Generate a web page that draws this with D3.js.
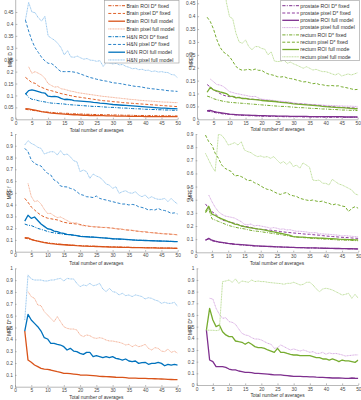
<!DOCTYPE html>
<html><head><meta charset="utf-8">
<script src="https://cdn.jsdelivr.net/npm/d3@7"></script>
<style>body{margin:0;background:#fff}svg{display:block}text{font-family:"Liberation Sans",Arial,sans-serif}</style>
</head><body><svg id="c" width="361" height="400"></svg>
<script>
// ---------- data ----------
const averages = [3,4,5,6,7,8,9,10,11,12,13,14,15,16,17,18,19,20,21,22,23,24,25,26,27,28,29,30,31,32,33,34,35,36,37,38,39,40,41,42,43,44,45,46,47,48,49,50];
const xTicks = [0,5,10,15,20,25,30,35,40,45,50];
const yTicksD = [0,0.05,0.1,0.15,0.2,0.25,0.3,0.35,0.4,0.45];
const yTicksF1 = [0,0.1,0.2,0.3,0.4,0.5,0.6,0.7,0.8,0.9,1];
const yTicksF2 = [0,0.1,0.2,0.3,0.4,0.5,0.6,0.7,0.8,0.9];
const yTicksDs = [0,0.1,0.2,0.3,0.4,0.5,0.6,0.7,0.8,0.9,1];

const brainLabels = ["Brain ROI D* fixed","Brain pixel D* fixed","Brain ROI full model","Brain pixel full model"];
const hnLabels = ["H&N ROI D* fixed","H&N pixel D* fixed","H&N ROI full model","H&N pixel full model"];
const prostateLabels = ["prostate ROI D* fixed","prostate pixel D* fixed","prostate ROI full model","prostate pixel full model"];
const rectumLabels = ["rectum ROI D* fixed","rectum pixel D* fixed","rectum ROI full mode","rectum pixel full mode"];

// MRE D, brain
const brainRoiDfixD = [0.042,0.040,0.038,0.036,0.034,0.032,0.031,0.030, 0.029,0.028,0.027,0.026,0.025,0.025,0.024,0.023,0.023,0.022, 0.022,0.021,0.021,0.020,0.020,0.020,0.019,0.019,0.019,0.018, 0.018,0.018,0.017,0.017,0.017,0.017,0.016,0.016,0.016,0.016, 0.016,0.015,0.015,0.015,0.015,0.015,0.015,0.014,0.014,0.014];
const brainPixDfixD = [0.176,0.165,0.154,0.151,0.140,0.134,0.128,0.123, 0.120,0.116,0.112,0.108,0.105,0.102,0.099,0.096,0.094,0.092, 0.090,0.088,0.086,0.084,0.082,0.080,0.078,0.077,0.076,0.074, 0.073,0.072,0.070,0.069,0.068,0.067,0.066,0.065,0.064,0.063, 0.062,0.061,0.060,0.059,0.058,0.057,0.056,0.055,0.054,0.053];
const brainRoiFullD = [0.045,0.044,0.041,0.038,0.035,0.032,0.030,0.028, 0.026,0.025,0.024,0.023,0.022,0.021,0.020,0.019,0.019,0.018, 0.017,0.017,0.016,0.016,0.015,0.015,0.015,0.014,0.014,0.014, 0.013,0.013,0.013,0.013,0.012,0.012,0.012,0.012,0.012,0.011, 0.011,0.011,0.011,0.011,0.011,0.011,0.011,0.011,0.011,0.011];
const brainPixFullD = [null,0.220,0.193,0.200,0.193,0.186,0.172,0.150, 0.142,0.135,0.137,0.128,0.126,0.122,0.118,0.116,0.112,0.110, 0.108,0.106,0.104,0.102,0.100,0.098,0.096,0.095,0.093,0.092, 0.090,0.089,0.087,0.086,0.084,0.083,0.082,0.080,0.079,0.078, 0.077,0.076,0.075,0.074,0.073,0.072,0.072,0.071,0.070,0.070];
// MRE D, H&N
const hnRoiDfixD = [0.109,0.092,0.084,0.082,0.078,0.075,0.073,0.070, 0.068,0.067,0.066,0.065,0.064,0.062,0.061,0.060,0.059,0.058, 0.057,0.056,0.055,0.054,0.054,0.053,0.052,0.051,0.050,0.050, 0.049,0.048,0.047,0.047,0.046,0.045,0.044,0.044,0.043,0.042, 0.042,0.041,0.041,0.040,0.040,0.039,0.039,0.038,0.038,0.037];
const hnPixDfixD = [0.416,0.370,0.330,0.300,0.280,0.260,0.245,0.235, 0.234,0.225,0.210,0.200,0.200,0.200,0.200,0.198,0.195,0.190, 0.185,0.180,0.175,0.172,0.168,0.165,0.162,0.160,0.157,0.153, 0.152,0.150,0.148,0.145,0.143,0.140,0.138,0.137,0.135,0.132, 0.130,0.128,0.127,0.125,0.124,0.122,0.120,0.119,0.118,0.117];
const hnRoiFullD = [0.105,0.120,0.123,0.120,0.116,0.112,0.110,0.097, 0.095,0.096,0.094,0.088,0.083,0.084,0.082,0.078,0.077,0.076, 0.075,0.074,0.073,0.071,0.070,0.068,0.067,0.066,0.064,0.062, 0.061,0.060,0.059,0.058,0.057,0.056,0.055,0.054,0.053,0.052, 0.051,0.050,0.049,0.048,0.047,0.047,0.046,0.045,0.045,0.044];
const hnPixFullD = [0.416,0.490,0.450,0.447,0.425,0.412,0.432,0.350, 0.340,0.332,0.318,0.300,0.270,0.288,0.262,0.260,0.265,0.258, 0.252,0.255,0.248,0.247,0.243,0.246,0.222,0.238,0.236,0.232, 0.235,0.228,0.230,0.222,0.218,0.212,0.214,0.208,0.210,0.205, 0.206,0.200,0.203,0.198,0.200,0.197,0.196,0.188,0.186,0.174];
// MRE D, prostate
const proRoiDfixD = [0.032,0.030,0.027,0.025,0.023,0.021,0.020,0.019, 0.018,0.017,0.016,0.015,0.015,0.014,0.014,0.013,0.013,0.012, 0.012,0.012,0.011,0.011,0.011,0.011,0.010,0.010,0.010,0.010, 0.010,0.010,0.009,0.009,0.009,0.009,0.009,0.009,0.009,0.008, 0.008,0.008,0.008,0.008,0.008,0.008,0.008,0.008,0.008,0.008];
const proPixDfixD = [0.135,0.125,0.114,0.108,0.100,0.094,0.090,0.088, 0.088,0.086,0.084,0.082,0.080,0.079,0.078,0.077,0.076,0.075, 0.074,0.072,0.071,0.070,0.068,0.067,0.066,0.065,0.064,0.062, 0.061,0.060,0.059,0.058,0.057,0.056,0.055,0.054,0.053,0.051, 0.050,0.049,0.048,0.047,0.047,0.046,0.045,0.044,0.044,0.043];
const proRoiFullD = [0.034,0.035,0.031,0.028,0.026,0.024,0.022,0.020, 0.019,0.018,0.017,0.017,0.016,0.016,0.015,0.015,0.014,0.014, 0.014,0.013,0.013,0.013,0.012,0.012,0.012,0.012,0.011,0.011, 0.011,0.011,0.011,0.011,0.010,0.010,0.010,0.010,0.010,0.010, 0.010,0.010,0.010,0.010,0.010,0.009,0.009,0.009,0.009,0.009];
const proPixFullD = [null,0.156,0.146,0.135,0.133,0.128,0.118,0.107, 0.104,0.100,0.098,0.095,0.093,0.090,0.088,0.089,0.083,0.078, 0.077,0.076,0.074,0.073,0.071,0.070,0.069,0.068,0.066,0.063, 0.062,0.061,0.060,0.059,0.058,0.057,0.056,0.056,0.055,0.054, 0.054,0.053,0.053,0.052,0.052,0.051,0.051,0.051,0.050,0.050];
// MRE D, rectum
const recRoiDfixD = [0.090,0.086,0.080,0.076,0.073,0.070,0.068,0.066, 0.065,0.064,0.063,0.062,0.061,0.060,0.059,0.058,0.057,0.056, 0.055,0.054,0.053,0.052,0.051,0.050,0.050,0.049,0.048,0.047, 0.046,0.045,0.045,0.044,0.043,0.042,0.042,0.041,0.040,0.040, 0.039,0.038,0.038,0.037,0.036,0.036,0.035,0.035,0.034,0.034];
const recPixDfixD = [0.396,0.379,0.350,0.310,0.280,0.262,0.253,0.243, 0.225,0.205,0.195,0.190,0.192,0.194,0.190,0.195,0.190,0.190, 0.182,0.176,0.173,0.170,0.165,0.164,0.166,0.160,0.158,0.156, 0.152,0.149,0.145,0.146,0.142,0.138,0.140,0.135,0.134,0.131, 0.130,0.131,0.129,0.130,0.126,0.124,0.121,0.118,0.115,0.116];
const recRoiFullD = [0.105,0.124,0.114,0.110,0.106,0.103,0.100,0.090, 0.089,0.083,0.085,0.080,0.081,0.078,0.077,0.076,0.075,0.073, 0.072,0.071,0.070,0.069,0.068,0.066,0.065,0.064,0.062,0.060, 0.059,0.058,0.057,0.056,0.055,0.054,0.053,0.052,0.050,0.049, 0.048,0.047,0.046,0.045,0.045,0.044,0.043,0.042,0.041,0.041];
const recPixFullD = [0.620,0.600,0.600,0.620,0.600,0.580,0.455,0.398, 0.390,0.334,0.300,0.295,0.308,0.282,0.270,0.282,0.282,0.275, 0.272,0.250,0.262,0.226,0.224,0.225,0.230,0.217,0.222,0.215, 0.210,0.204,0.198,0.204,0.198,0.191,0.194,0.189,0.185,0.185, 0.181,0.176,0.172,0.178,0.168,0.172,0.176,0.172,0.176,0.181];

// MRE f, brain
const brainRoiDfixF = [0.115,0.110,0.102,0.096,0.090,0.085,0.080,0.076, 0.072,0.069,0.066,0.063,0.061,0.059,0.057,0.055,0.053,0.052, 0.050,0.049,0.048,0.047,0.046,0.045,0.044,0.043,0.042,0.041, 0.040,0.040,0.039,0.038,0.038,0.037,0.036,0.036,0.035,0.035, 0.034,0.034,0.033,0.033,0.032,0.032,0.031,0.031,0.030,0.030];
const brainPixDfixF = [0.453,0.420,0.380,0.355,0.330,0.310,0.295,0.285, 0.280,0.275,0.270,0.260,0.250,0.245,0.240,0.238,0.235,0.232, 0.225,0.218,0.215,0.212,0.210,0.208,0.206,0.205,0.203,0.200, 0.196,0.192,0.190,0.186,0.183,0.180,0.176,0.173,0.170,0.168, 0.165,0.162,0.160,0.157,0.155,0.152,0.150,0.148,0.146,0.144];
const brainRoiFullF = [0.120,0.118,0.105,0.097,0.090,0.084,0.078,0.073, 0.069,0.066,0.063,0.061,0.059,0.057,0.055,0.053,0.051,0.050, 0.048,0.047,0.046,0.045,0.044,0.043,0.042,0.041,0.040,0.039, 0.039,0.038,0.037,0.037,0.036,0.035,0.035,0.034,0.034,0.033, 0.033,0.032,0.032,0.031,0.031,0.030,0.030,0.030,0.029,0.029];
const brainPixFullF = [null,0.580,0.470,0.425,0.433,0.405,0.360,0.325, 0.325,0.305,0.290,0.295,0.280,0.265,0.250,0.245,0.245,0.225, 0.220,0.222,0.215,0.214,0.212,0.208,0.206,0.207,0.203,0.198, 0.195,0.197,0.190,0.185,0.184,0.183,0.178,0.174,0.170,0.172, 0.163,0.162,0.158,0.155,0.152,0.152,0.153,0.148,0.147,0.142];
// MRE f, H&N
const hnRoiDfixF = [0.235,0.225,0.222,0.210,0.198,0.190,0.182,0.172, 0.165,0.160,0.156,0.152,0.148,0.145,0.142,0.140,0.136,0.132, 0.130,0.128,0.126,0.124,0.122,0.120,0.118,0.116,0.113,0.110, 0.108,0.106,0.105,0.103,0.102,0.100,0.099,0.098,0.097,0.096, 0.095,0.094,0.093,0.092,0.091,0.090,0.089,0.088,0.087,0.086];
const hnPixDfixF = [0.878,0.850,0.779,0.750,0.737,0.728,0.694,0.666, 0.652,0.609,0.595,0.558,0.552,0.550,0.538,0.530,0.510,0.487, 0.480,0.467,0.465,0.460,0.473,0.453,0.445,0.439,0.432,0.425, 0.418,0.411,0.405,0.405,0.397,0.402,0.397,0.382,0.376,0.368, 0.354,0.358,0.354,0.368,0.354,0.350,0.340,0.326,0.330,0.320];
const hnRoiFullF = [0.260,0.310,0.283,0.295,0.265,0.235,0.215,0.195, 0.190,0.175,0.170,0.160,0.155,0.148,0.145,0.140,0.137,0.130, 0.128,0.127,0.125,0.124,0.122,0.120,0.118,0.116,0.113,0.110, 0.109,0.108,0.106,0.104,0.102,0.100,0.099,0.097,0.096,0.095, 0.094,0.093,0.092,0.091,0.090,0.089,0.088,0.087,0.086,0.085];
const hnPixFullF = [0.907,0.943,0.920,0.907,0.887,0.878,0.830,0.841, 0.850,0.848,0.822,0.858,0.822,0.830,0.807,0.773,0.765,0.680, 0.694,0.680,0.623,0.660,0.643,0.632,0.609,0.575,0.566,0.538, 0.552,0.496,0.510,0.518,0.501,0.496,0.510,0.482,0.467,0.482, 0.453,0.467,0.453,0.445,0.445,0.453,0.425,0.453,0.425,0.405];
// MRE f, prostate
const proRoiDfixF = [0.094,0.100,0.088,0.082,0.077,0.073,0.070,0.066, 0.063,0.060,0.058,0.056,0.054,0.052,0.050,0.049,0.047,0.046, 0.045,0.044,0.043,0.042,0.041,0.040,0.039,0.038,0.038,0.037, 0.036,0.035,0.035,0.034,0.033,0.033,0.032,0.032,0.031,0.031, 0.030,0.030,0.029,0.029,0.028,0.028,0.027,0.027,0.026,0.026];
const proPixDfixF = [0.368,0.335,0.309,0.292,0.270,0.246,0.240,0.233, 0.226,0.220,0.212,0.200,0.198,0.195,0.190,0.180,0.178,0.175, 0.173,0.170,0.168,0.165,0.162,0.158,0.155,0.152,0.150,0.147, 0.145,0.143,0.140,0.138,0.137,0.134,0.132,0.130,0.127,0.124, 0.122,0.120,0.118,0.116,0.114,0.113,0.111,0.109,0.107,0.106];
const proRoiFullF = [0.092,0.106,0.092,0.085,0.080,0.076,0.072,0.068, 0.065,0.062,0.060,0.058,0.056,0.054,0.052,0.050,0.049,0.047, 0.046,0.045,0.044,0.043,0.042,0.041,0.040,0.039,0.038,0.037, 0.036,0.036,0.035,0.034,0.034,0.033,0.033,0.032,0.031,0.031, 0.030,0.030,0.029,0.029,0.028,0.028,0.027,0.027,0.026,0.025];
const proPixFullF = [null,0.436,0.385,0.342,0.309,0.290,0.276,0.271, 0.266,0.260,0.246,0.233,0.213,0.210,0.215,0.200,0.205,0.200, 0.195,0.190,0.183,0.188,0.183,0.175,0.178,0.170,0.172,0.165, 0.160,0.160,0.158,0.155,0.150,0.148,0.150,0.140,0.140,0.138, 0.137,0.134,0.132,0.130,0.124,0.127,0.124,0.122,0.119,0.119];
// MRE f, rectum
const recRoiDfixF = [0.300,0.330,0.255,0.245,0.235,0.225,0.215,0.205, 0.198,0.192,0.186,0.182,0.178,0.172,0.167,0.162,0.160,0.157, 0.153,0.150,0.146,0.142,0.139,0.135,0.131,0.127,0.123,0.119, 0.116,0.114,0.112,0.110,0.108,0.106,0.105,0.103,0.101,0.100, 0.098,0.097,0.095,0.094,0.093,0.092,0.091,0.090,0.089,0.088];
const recPixDfixF = [0.892,0.842,0.816,0.753,0.715,0.664,0.639,0.626, 0.614,0.580,0.585,0.576,0.563,0.545,0.548,0.530,0.520,0.505, 0.490,0.479,0.475,0.461,0.449,0.440,0.449,0.455,0.436,0.430, 0.425,0.411,0.404,0.398,0.393,0.398,0.390,0.385,0.390,0.378, 0.373,0.360,0.367,0.360,0.352,0.347,0.309,0.335,0.347,0.335];
const recRoiFullF = [0.310,0.350,0.290,0.280,0.265,0.255,0.245,0.233, 0.225,0.215,0.210,0.200,0.195,0.190,0.186,0.182,0.178,0.175, 0.170,0.165,0.160,0.155,0.150,0.145,0.140,0.135,0.128,0.120, 0.118,0.116,0.115,0.113,0.112,0.110,0.109,0.108,0.107,0.106, 0.104,0.103,0.102,0.100,0.099,0.098,0.097,0.096,0.095,0.094];
const recPixFullF = [0.753,0.702,0.652,0.615,0.900,0.890,0.860,0.816, 0.824,0.834,0.816,0.842,0.778,0.766,0.758,0.740,0.728,0.733, 0.723,0.728,0.715,0.728,0.702,0.677,0.690,0.669,0.690,0.652, 0.664,0.639,0.680,0.664,0.647,0.550,0.545,0.550,0.525,0.525, 0.512,0.555,0.537,0.520,0.512,0.500,0.487,0.474,0.444,0.436];

// MRE D*, brain / H&N (full model only)
const brainRoiFullDs = [0.470,0.225,0.206,0.183,0.169,0.155,0.149,0.146, 0.141,0.134,0.127,0.121,0.113,0.113,0.110,0.107,0.104,0.099, 0.098,0.097,0.095,0.093,0.091,0.087,0.086,0.085,0.084,0.082, 0.080,0.079,0.078,0.077,0.073,0.073,0.072,0.071,0.071,0.070, 0.069,0.068,0.067,0.066,0.065,0.064,0.062,0.061,0.060,0.059];
const brainPixFullDs = [null,0.803,0.761,0.746,0.690,0.684,0.634,0.606, 0.577,0.549,0.592,0.549,0.507,0.493,0.487,0.487,0.479,0.437, 0.423,0.437,0.431,0.414,0.408,0.414,0.408,0.394,0.386,0.386, 0.380,0.375,0.366,0.352,0.358,0.338,0.352,0.338,0.345,0.358, 0.324,0.310,0.330,0.324,0.301,0.296,0.318,0.290,0.300,0.282];
const hnRoiFullDs = [0.470,0.611,0.563,0.535,0.507,0.470,0.414,0.403, 0.366,0.366,0.358,0.352,0.338,0.310,0.324,0.301,0.296,0.282, 0.273,0.290,0.290,0.254,0.262,0.254,0.245,0.254,0.245,0.254, 0.239,0.234,0.225,0.234,0.217,0.211,0.217,0.197,0.203,0.206, 0.189,0.197,0.197,0.206,0.197,0.177,0.189,0.183,0.189,0.183];
const hnPixFullDs = [0.563,0.944,0.910,0.901,0.901,0.901,0.893,0.893, 0.901,0.901,0.910,0.915,0.893,0.915,0.910,0.910,0.873,0.845, 0.859,0.853,0.873,0.853,0.859,0.873,0.825,0.803,0.831,0.803, 0.797,0.775,0.789,0.769,0.775,0.761,0.775,0.769,0.761,0.741, 0.752,0.746,0.732,0.724,0.704,0.713,0.704,0.704,0.713,0.676];
// MRE D*, prostate / rectum
const proRoiFullDs = [0.471,0.214,0.200,0.157,0.157,0.157,0.151,0.137, 0.129,0.129,0.120,0.115,0.109,0.109,0.106,0.100,0.099,0.097, 0.095,0.093,0.090,0.086,0.086,0.086,0.083,0.080,0.077,0.074, 0.074,0.074,0.072,0.071,0.070,0.069,0.067,0.066,0.065,0.063, 0.062,0.060,0.060,0.060,0.059,0.057,0.057,0.060,0.058,0.057];
const proPixFullDs = [null,0.743,0.737,0.657,0.606,0.571,0.577,0.543, 0.537,0.520,0.480,0.443,0.429,0.423,0.406,0.394,0.394,0.386, 0.371,0.357,0.349,0.314,0.320,0.343,0.329,0.314,0.300,0.309, 0.300,0.291,0.300,0.291,0.280,0.286,0.271,0.271,0.280,0.263, 0.275,0.268,0.271,0.265,0.258,0.248,0.252,0.255,0.258,0.258];
const recRoiFullDs = [0.471,0.657,0.557,0.500,0.514,0.457,0.429,0.414, 0.414,0.377,0.371,0.366,0.349,0.366,0.349,0.329,0.320,0.320, 0.314,0.300,0.291,0.280,0.314,0.280,0.280,0.271,0.263,0.257, 0.257,0.251,0.251,0.251,0.251,0.243,0.234,0.234,0.223,0.223, 0.214,0.223,0.214,0.200,0.214,0.206,0.206,0.200,0.194,0.214];
const recPixFullDs = [0.471,0.469,0.469,0.466,0.470,0.886,0.891,0.900, 0.880,0.909,0.871,0.891,0.886,0.880,0.900,0.886,0.891,0.886, 0.886,0.880,0.877,0.874,0.871,0.869,0.863,0.871,0.871,0.880, 0.869,0.857,0.863,0.880,0.880,0.857,0.823,0.800,0.823,0.829, 0.823,0.814,0.800,0.786,0.771,0.777,0.786,0.743,0.777,0.743];

// ---------- styles ----------
const col = {
  brain:["#D95319","#E0622A","#D95319","#F3A98C"],
  hn:["#0072BD","#2A82C8","#0072BD","#8DC1EC"],
  pro:["#7E2F8E","#8E3D9E","#7E2F8E","#D4A4E0"],
  rec:["#77AC30","#77AC30","#77AC30","#B7DA8E"]
};
const dash = ["3.2,1.3,1,1.3","3,1.8",null,"1.1,0.5"];
const widths = [1,1,1.3,0.9];

const svg = d3.select("#c");

const panels = [
 {x:[15.7,177.7], y:[119.3,12], vmax:0.45, clipTop:0, ticks:yTicksD, ylabel:"MRE D", ylabX:11.8, xlabY:131.8,
  sets:[[brainRoiDfixD,brainPixDfixD,brainRoiFullD,brainPixFullD,"brain"],[hnRoiDfixD,hnPixDfixD,hnRoiFullD,hnPixFullD,"hn"]],
  legend:{box:[104.3,0.5,74.7,62.5], lx:[108.3,125], tx:126.6, y0:5.7, dy:7.75, labels:brainLabels.concat(hnLabels), keys:["brain","hn"]}},
 {x:[197.5,357.7], y:[119.3,3.3], vmax:0.45, clipTop:0, ticks:yTicksD, ylabel:"MRE D", ylabX:192.8, xlabY:131.2,
  sets:[[proRoiDfixD,proPixDfixD,proRoiFullD,proPixFullD,"pro"],[recRoiDfixD,recPixDfixD,recRoiFullD,recPixFullD,"rec"]],
  legend:{box:[280.7,0.5,78.6,60.2], lx:[282.3,299], tx:300.3, y0:5.7, dy:7.3, labels:prostateLabels.concat(rectumLabels), keys:["pro","rec"]}},
 {x:[15,177.7], y:[251.7,134], vmax:1, clipTop:134, ticks:yTicksF1, ylabel:"MRE f", ylabX:11.2, xlabY:264.6,
  sets:[[brainRoiDfixF,brainPixDfixF,brainRoiFullF,brainPixFullF,"brain"],[hnRoiDfixF,hnPixDfixF,hnRoiFullF,hnPixFullF,"hn"]]},
 {x:[195.7,358.3], y:[252.3,134], vmax:0.9, clipTop:134, ticks:yTicksF2, ylabel:"MRE f", ylabX:191.9, xlabY:264.6,
  sets:[[proRoiDfixF,proPixDfixF,proRoiFullF,proPixFullF,"pro"],[recRoiDfixF,recPixDfixF,recRoiFullF,recPixFullF,"rec"]]},
 {x:[15,177.7], y:[386.7,268.3], vmax:1, clipTop:268.3, ticks:yTicksDs, ylabel:"MRE D*", ylabX:11.2, xlabY:398.9,
  sets:[[null,null,brainRoiFullDs,brainPixFullDs,"brain"],[null,null,hnRoiFullDs,hnPixFullDs,"hn"]]},
 {x:[196.7,358.3], y:[385,268.3], vmax:1, clipTop:268.3, ticks:yTicksDs, ylabel:"MRE D*", ylabX:191.9, xlabY:397.2,
  sets:[[null,null,proRoiFullDs,proPixFullDs,"pro"],[null,null,recRoiFullDs,recPixFullDs,"rec"]]}
];

const fmt = v => String(+v.toFixed(2));
const axisCol = "#8a8a8a", txtCol = "#4a4a4a";

panels.forEach((p, pi) => {
  const xs = d3.scaleLinear().domain([0,50]).range(p.x);
  const ys = d3.scaleLinear().domain([0,p.vmax]).range(p.y);
  const g = svg.append("g");
  const cid = "clip" + pi;
  svg.append("clipPath").attr("id", cid).append("rect")
    .attr("x", p.x[0]).attr("y", p.clipTop).attr("width", p.x[1]-p.x[0]).attr("height", p.y[0]-p.clipTop);

  // axes (inward ticks, MATLAB style)
  const xa = d3.axisBottom(xs).tickValues(xTicks).tickSizeInner(-1.6).tickSizeOuter(0).tickPadding(2.4).tickFormat(d3.format("d"));
  const ya = d3.axisLeft(ys).tickValues(p.ticks).tickSizeInner(-1.6).tickSizeOuter(0).tickPadding(2.2).tickFormat(fmt);
  const gx = g.append("g").attr("transform", `translate(0,${p.y[0]})`).call(xa);
  const gy = g.append("g").attr("transform", `translate(${p.x[0]},0)`).call(ya);
  [gx, gy].forEach(a => {
    a.selectAll("path,line").attr("stroke", axisCol).attr("stroke-width", 0.6);
    a.selectAll("text").attr("fill", txtCol).style("font-size", "4.8px");
  });
  if (p.clipTop < p.y[1]) gy.select("path").attr("d", `M0,${p.y[0]}V${p.clipTop}`);

  // lines
  const line = d3.line().defined(d => d[1] != null).x(d => xs(d[0])).y(d => ys(d[1]));
  const lg = g.append("g").attr("clip-path", `url(#${cid})`);
  p.sets.forEach(set => {
    const key = set[4];
    for (let k = 0; k < 4; k++) {
      const vals = set[k];
      if (!vals) continue;
      lg.append("path").datum(averages.map((a, i) => [a, vals[i]]))
        .attr("d", line).attr("fill", "none")
        .attr("stroke", col[key][k]).attr("stroke-width", widths[k])
        .attr("stroke-dasharray", dash[k]).attr("stroke-linejoin", "round");
    }
  });

  // labels
  g.append("text").attr("x", (p.x[0]+p.x[1])/2).attr("y", p.xlabY).attr("text-anchor", "middle")
    .attr("fill", "#333").style("font-size", "4.8px").text("Total number of averages");
  g.append("text").attr("transform", `translate(${p.ylabX},${(p.y[0]+p.clipTop)/2}) rotate(-90)`)
    .attr("text-anchor", "middle").attr("fill", "#333").style("font-size", "4.6px").text(p.ylabel);

  // legend
  if (p.legend) {
    const L = p.legend;
    const lgd = g.append("g");
    lgd.append("rect").attr("x", L.box[0]).attr("y", L.box[1]).attr("width", L.box[2]).attr("height", L.box[3])
      .attr("fill", "#fff").attr("stroke", "#9a9a9a").attr("stroke-width", 0.6);
    L.labels.forEach((lab, i) => {
      const key = L.keys[Math.floor(i/4)], k = i % 4;
      const yy = L.y0 + i*L.dy;
      lgd.append("line").attr("x1", L.lx[0]).attr("x2", L.lx[1]).attr("y1", yy).attr("y2", yy)
        .attr("stroke", col[key][k]).attr("stroke-width", widths[k]).attr("stroke-dasharray", dash[k]);
      lgd.append("text").attr("x", L.tx).attr("y", yy + 1.8).attr("fill", "#333").style("font-size", "5.2px").text(lab);
    });
  }
});
</script></body></html>
